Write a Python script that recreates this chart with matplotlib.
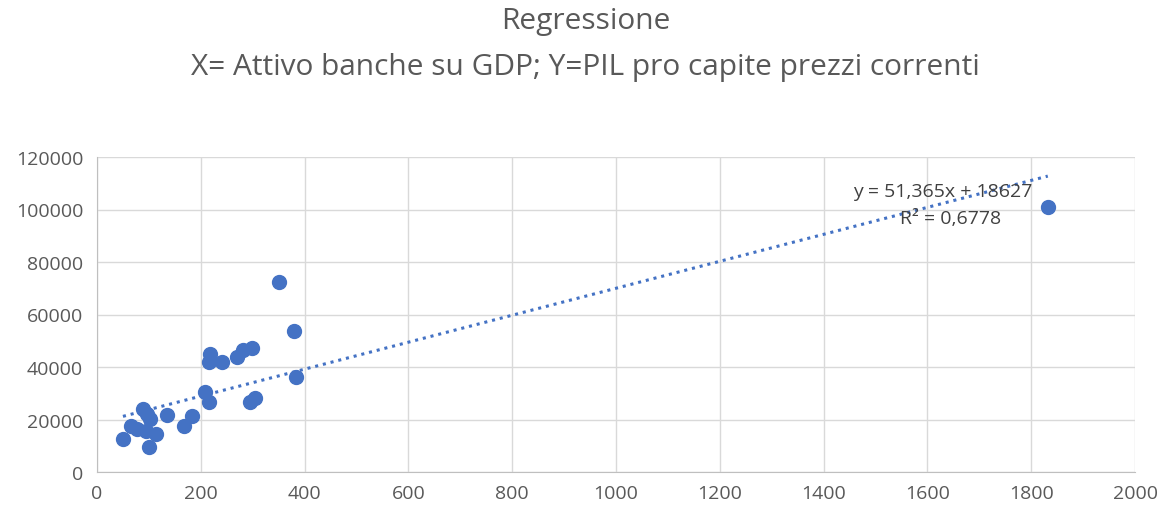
import numpy as np
import matplotlib.pyplot as plt

# attivo banche su GDP (x) vs PIL pro capite (y)
attivo = [50, 65, 88, 97, 78, 94, 103, 113, 100, 134, 168, 183,
          218, 216, 241, 270, 281, 299, 208, 215, 294, 305, 383,
          351, 380, 1832]
pil = [12600, 17600, 24000, 22100, 16400, 15700, 20200, 14500, 9400, 21800, 17600, 21500,
       45000, 41800, 42000, 43700, 46600, 47100, 30400, 26600, 26600, 28200, 36300,
       72500, 53800, 101000]

# Excel trendline as printed on the chart
SLOPE = 51.365
INTERCEPT = 18627
R2 = 0.6778

BLUE = '#4472C4'
GREY_TXT = '#595959'

plt.rcParams['font.family'] = ['Open Sans', 'DejaVu Sans']

fig = plt.figure(figsize=(11.71, 5.10), dpi=100)
ax = fig.add_axes([97 / 1171, 1 - 473 / 510, (1135 - 97) / 1171, (473 - 158) / 510])

xs = np.array(attivo)
xt = np.array([xs.min(), xs.max()])
ax.plot(xt, SLOPE * xt + INTERCEPT, ls=(0, (1, 1.6)), lw=2.2, color=BLUE, zorder=2)
ax.plot(attivo, pil, 'o', ms=10, color=BLUE, zorder=3)

ax.set_xlim(0, 2000)
ax.set_ylim(0, 120000)
ax.set_xticks(np.arange(0, 2001, 200))
ax.set_yticks(np.arange(0, 120001, 20000))
ax.grid(True, color='#d9d9d9', lw=1)
ax.set_axisbelow(True)
for s in ['top', 'right']:
    ax.spines[s].set_visible(False)
for s in ['left', 'bottom']:
    ax.spines[s].set_color('#bfbfbf')
ax.tick_params(length=0, labelsize=14, labelcolor=GREY_TXT)
ax.tick_params(axis='y', pad=10)
ax.tick_params(axis='x', pad=9)

ax.text(1630, 107000, f'y = {SLOPE:.3f}x + {INTERCEPT}'.replace('.', ','),
        ha='center', va='center', fontsize=14, color='#404040', zorder=4)
ax.text(1645, 96800, f'R² = {R2}'.replace('.', ','),
        ha='center', va='center', fontsize=14, color='#404040', zorder=4)

fig.text(0.5, 1 - 22 / 510, 'Regressione', ha='center', va='center',
         fontsize=21.5, color=GREY_TXT)
fig.text(0.5, 1 - 67 / 510, 'X= Attivo banche su GDP; Y=PIL pro capite prezzi correnti',
         ha='center', va='center', fontsize=21.5, color=GREY_TXT)

fig.savefig('out.png', dpi=100)
